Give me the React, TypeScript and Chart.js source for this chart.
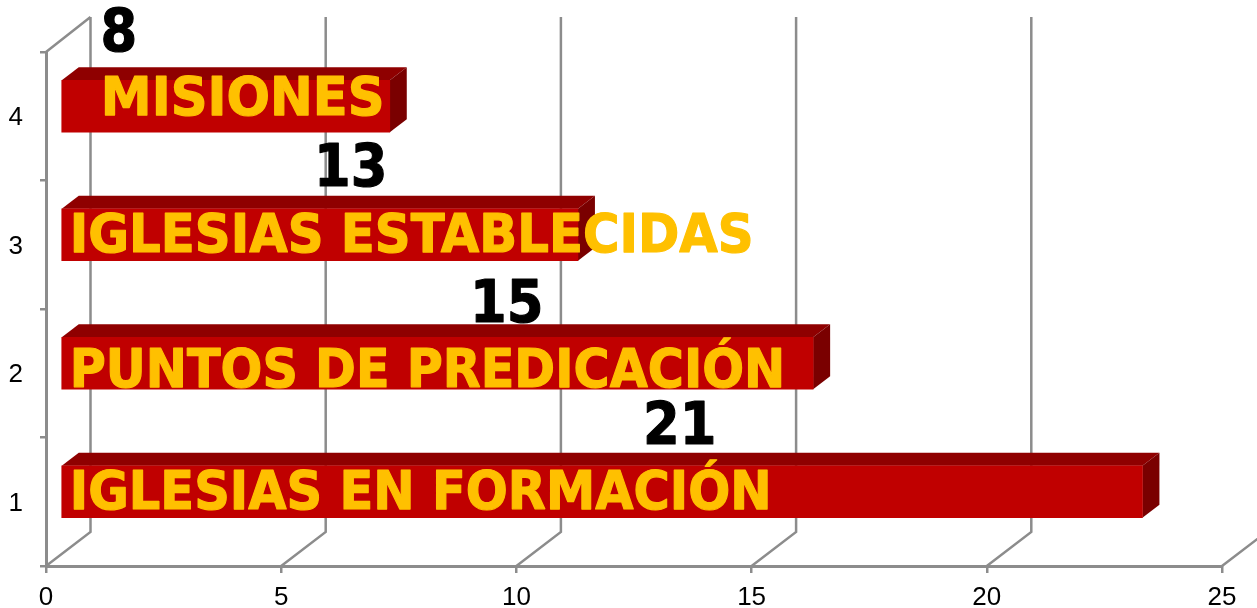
import React, { useEffect, useRef } from "react";
import { Chart, registerables } from "chart.js";

Chart.register(...registerables);

const categories = ["1", "2", "3", "4"];
const barValues = [23, 16, 11, 7];
const nameLabels = ["IGLESIAS EN FORMACIÓN", "PUNTOS DE PREDICACIÓN", "IGLESIAS ESTABLECIDAS", "MISIONES"];
const countLabels = ["21", "15", "13", "8"];
const xTicks = [0, 5, 10, 15, 20, 25];

const AXIS_COLOR = "#8c8c8c";
const FRONT = "#c00000";
const TOP = "#8f0000";
const SIDE = "#7a0000";
const SHIFT_X = 14.5;
const SHIFT_Y = -10;
const BAR_DX = 17;
const BAR_DY = 13;
const WALL_DX = 44.5;
const WALL_DY = 34;
const WALL_TOP = 17;
// label placement relative to each bar's left edge and vertical centre
const nameOffsetX = [8, 8, 8, 39];
const nameOffsetY = [3, 10, 3, -5];
const countOffsetX = [618, 445, 289, 57];
const countOffsetY = [-63, -56, -64, -70];
const NAME_FONT = "bold 53px 'DejaVu Sans'";
const COUNT_FONT = "bold 58px 'DejaVu Sans'";
const nameSqueeze = [0.934, 0.929, 0.939, 0.965];
const COUNT_SQUEEZE = 0.91;

const wallPlugin = {
  id: "wall",
  beforeDatasetsDraw(chart: any) {
    const { ctx, chartArea, scales } = chart;
    const bottom = chartArea.bottom;
    ctx.save();
    ctx.strokeStyle = AXIS_COLOR;
    ctx.lineWidth = 2.5;
    ctx.beginPath();
    xTicks.forEach((t) => {
      const x = scales.x.getPixelForValue(t);
      ctx.moveTo(x, bottom);
      ctx.lineTo(x + WALL_DX, bottom - WALL_DY);
      ctx.lineTo(x + WALL_DX, WALL_TOP);
    });
    const x0 = scales.x.getPixelForValue(0);
    ctx.moveTo(x0, chartArea.top);
    ctx.lineTo(x0 + WALL_DX, WALL_TOP);
    ctx.stroke();
    ctx.restore();

    ctx.save();
    ctx.translate(SHIFT_X, SHIFT_Y);
    chart.getDatasetMeta(0).data.forEach((bar: any) => {
      const { x, y, base, height } = bar.getProps(["x", "y", "base", "height"], true);
      const t = y - height / 2;
      const b = y + height / 2;
      ctx.fillStyle = TOP;
      ctx.beginPath();
      ctx.moveTo(base, t);
      ctx.lineTo(base + BAR_DX, t - BAR_DY);
      ctx.lineTo(x + BAR_DX, t - BAR_DY);
      ctx.lineTo(x, t);
      ctx.closePath();
      ctx.fill();
      ctx.fillStyle = SIDE;
      ctx.beginPath();
      ctx.moveTo(x, t);
      ctx.lineTo(x + BAR_DX, t - BAR_DY);
      ctx.lineTo(x + BAR_DX, b - BAR_DY);
      ctx.lineTo(x, b);
      ctx.closePath();
      ctx.fill();
    });
  },
  afterDatasetsDraw(chart: any) {
    const { ctx } = chart;
    ctx.restore();
    const drawSqueezed = (text: string, x: number, y: number, font: string, color: string, align: "left" | "center", squeeze: number) => {
      ctx.save();
      ctx.translate(x, y);
      ctx.scale(squeeze, 1);
      ctx.font = font;
      ctx.fillStyle = color;
      ctx.strokeStyle = color;
      ctx.lineWidth = 1.2;
      ctx.lineJoin = "round";
      ctx.textAlign = align;
      ctx.textBaseline = "middle";
      ctx.fillText(text, 0, 0);
      ctx.strokeText(text, 0, 0);
      ctx.restore();
    };
    chart.getDatasetMeta(0).data.forEach((bar: any, i: number) => {
      const { y, base } = bar.getProps(["y", "base"], true);
      const left = base + SHIFT_X;
      const mid = y + SHIFT_Y;
      drawSqueezed(nameLabels[i], left + nameOffsetX[i], mid + nameOffsetY[i], NAME_FONT, "#ffc000", "left", nameSqueeze[i]);
      drawSqueezed(countLabels[i], left + countOffsetX[i], mid + countOffsetY[i], COUNT_FONT, "#000000", "center", COUNT_SQUEEZE);
    });
  },
};

export default function App() {
  const ref = useRef<HTMLCanvasElement>(null);
  useEffect(() => {
    const chart = new Chart(ref.current as HTMLCanvasElement, {
      type: "bar",
      data: {
        labels: categories,
        datasets: [{ data: barValues, backgroundColor: FRONT, borderWidth: 0, barThickness: 52, clip: false } as any],
      },
      options: {
        indexAxis: "y",
        animation: false,
        responsive: false,
        layout: { padding: { top: 52, right: 35, left: 0, bottom: 0 } },
        plugins: { legend: { display: false }, tooltip: { enabled: false } },
        scales: {
          x: {
            type: "linear",
            position: "bottom",
            min: 0,
            max: 25,
            afterFit: (s: any) => { s.height = 42; },
            afterBuildTicks: (s: any) => { s.ticks = xTicks.map((value) => ({ value })); },
            grid: { drawOnChartArea: false, drawTicks: true, tickLength: 7, color: AXIS_COLOR, lineWidth: 2.5 },
            border: { display: true, color: AXIS_COLOR, width: 3 },
            ticks: { color: "#000", font: { family: "'Liberation Sans'", size: 26 }, padding: 9, maxRotation: 0, autoSkip: false },
          },
          y: {
            type: "category",
            position: "left",
            reverse: true,
            afterFit: (s: any) => { s.width = 46; },
            grid: { drawOnChartArea: false, drawTicks: true, tickLength: 6, color: AXIS_COLOR, lineWidth: 2.5 },
            border: { display: true, color: AXIS_COLOR, width: 3 },
            ticks: { color: "#000", font: { family: "'Liberation Sans'", size: 26 }, padding: 17, labelOffset: 2 },
          },
        },
      } as any,
      plugins: [wallPlugin],
    });
    return () => chart.destroy();
  }, []);
  return (
    <canvas
      ref={ref}
      width={1257}
      height={608}
      style={{ position: "fixed", left: 0, top: 0, width: 1257, height: 608, display: "block" }}
    />
  );
}
